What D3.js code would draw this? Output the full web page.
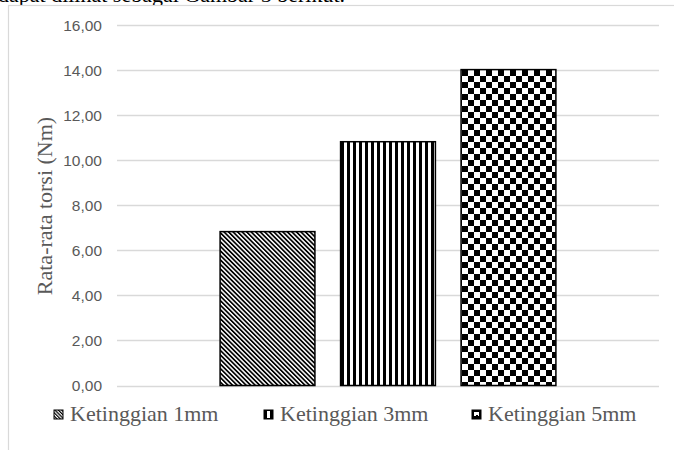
<!DOCTYPE html>
<html><head><meta charset="utf-8">
<script src="https://cdn.jsdelivr.net/npm/d3@7"></script>
<style>body{margin:0;background:#fff}svg{display:block}</style>
</head><body><svg id="c" width="674" height="450"></svg>
<script>
const categories = ["Rata-rata"];
const seriesNames = ["Ketinggian 1mm", "Ketinggian 3mm", "Ketinggian 5mm"];
const seriesValues = [6.83, 10.82, 14.02];
const yTicks = [0, 2, 4, 6, 8, 10, 12, 14, 16];
const yTickLabels = ["0,00","2,00","4,00","6,00","8,00","10,00","12,00","14,00","16,00"];
const yTitle = "Rata-rata torsi (Nm)";
const topText = "dapat dilihat sebagai Gambar 5 berikut.";

const svg = d3.select("#c");
const defs = svg.append("defs");
// patterns
const p1 = defs.append("pattern").attr("id","pat0").attr("patternUnits","userSpaceOnUse")
  .attr("width",3.2).attr("height",3.2).attr("patternTransform","rotate(-45)");
p1.append("rect").attr("width",3.2).attr("height",3.2).attr("fill","#fff");
p1.append("rect").attr("width",1.7).attr("height",3.2).attr("fill","#000");
const p2 = defs.append("pattern").attr("id","pat1").attr("patternUnits","userSpaceOnUse")
  .attr("width",6).attr("height",6).attr("x",341);
p2.append("rect").attr("width",6).attr("height",6).attr("fill","#fff");
p2.append("rect").attr("width",3).attr("height",6).attr("fill","#000");
const p3 = defs.append("pattern").attr("id","pat2").attr("patternUnits","userSpaceOnUse")
  .attr("width",12).attr("height",12).attr("x",462).attr("y",70);
p3.append("rect").attr("width",12).attr("height",12).attr("fill","#fff");
p3.append("rect").attr("width",6).attr("height",6).attr("fill","#000");
p3.append("rect").attr("x",6).attr("y",6).attr("width",6).attr("height",6).attr("fill","#000");

// top partial text (cut off at the top edge, as in the reference)
svg.append("text").attr("x",-2).attr("y",2).attr("font-family","Liberation Serif")
  .attr("font-size",22).attr("fill","#000").text(topText);

// frame
svg.append("rect").attr("x",8.5).attr("y",5.5).attr("width",700).attr("height",500)
  .attr("fill","#fff").attr("stroke","#d9d9d9").attr("stroke-width",1.2);

const L = 117, R = 659;
const y = d3.scaleLinear().domain([0,16]).range([385.5,25]);
const x0 = d3.scaleBand().domain(categories).range([L,R]).paddingInner(0).paddingOuter(0.307);
const x1 = d3.scaleBand().domain(seriesNames).range([0,x0.bandwidth()]).paddingInner(0.213).paddingOuter(0);

// gridlines
svg.append("g").selectAll("line").data(yTicks).join("line")
  .attr("x1",L).attr("x2",R).attr("y1",d=>Math.round(y(d))+0.5).attr("y2",d=>Math.round(y(d))+0.5)
  .attr("stroke","#d9d9d9").attr("stroke-width",1.3);

// y axis labels
const yAxis = d3.axisLeft(y).tickValues(yTicks).tickSize(0).tickPadding(0)
  .tickFormat((d,i)=>yTickLabels[i]);
const ga = svg.append("g").attr("transform",`translate(102,0)`).call(yAxis);
ga.select(".domain").remove();
ga.selectAll("text").attr("font-family","Liberation Sans").attr("font-size",15.5)
  .attr("fill","#595959").attr("dy","0.35em");

// bars
svg.append("g").selectAll("rect").data(seriesNames).join("rect")
  .attr("x",d=>x0(categories[0])+x1(d))
  .attr("y",(d,i)=>y(seriesValues[i]))
  .attr("width",x1.bandwidth())
  .attr("height",(d,i)=>y(0)-y(seriesValues[i]))
  .attr("fill",(d,i)=>`url(#pat${i})`)
  .attr("stroke","#000").attr("stroke-width",1.5);

// y title
svg.append("text").attr("transform","translate(52,206) rotate(-90)")
  .attr("text-anchor","middle").attr("font-family","Liberation Serif")
  .attr("font-size",22).attr("fill","#595959").text(yTitle);

// legend
const legX = [54, 264, 472];
const lg = svg.append("g").selectAll("g").data(seriesNames).join("g")
  .attr("transform",(d,i)=>`translate(${legX[i]},410)`);
lg.append("rect").attr("width",9).attr("height",9).attr("fill",(d,i)=>`url(#lpat${i})`)
  .attr("stroke","#000").attr("stroke-width",1);
lg.append("text").attr("x",16).attr("y",11).attr("font-family","Liberation Serif")
  .attr("font-size",22).attr("fill","#595959").text(d=>d);
// legend small patterns
const lp0 = defs.append("pattern").attr("id","lpat0").attr("patternUnits","userSpaceOnUse")
  .attr("width",2.4).attr("height",2.4).attr("patternTransform","rotate(-45)");
lp0.append("rect").attr("width",2.4).attr("height",2.4).attr("fill","#fff");
lp0.append("rect").attr("width",1.2).attr("height",2.4).attr("fill","#000");
const lp1 = defs.append("pattern").attr("id","lpat1").attr("patternUnits","objectBoundingBox")
  .attr("width",1).attr("height",1);
lp1.append("rect").attr("width",9).attr("height",9).attr("fill","#000");
lp1.append("rect").attr("x",3).attr("y",1).attr("width",3).attr("height",7).attr("fill","#fff");
const lp2 = defs.append("pattern").attr("id","lpat2").attr("patternUnits","objectBoundingBox")
  .attr("width",1).attr("height",1);
lp2.append("rect").attr("width",9).attr("height",9).attr("fill","#000");
lp2.append("rect").attr("x",2).attr("y",2).attr("width",5).attr("height",4).attr("fill","#fff");
lp2.append("rect").attr("x",4).attr("y",5).attr("width",2).attr("height",2).attr("fill","#000");
</script></body></html>
